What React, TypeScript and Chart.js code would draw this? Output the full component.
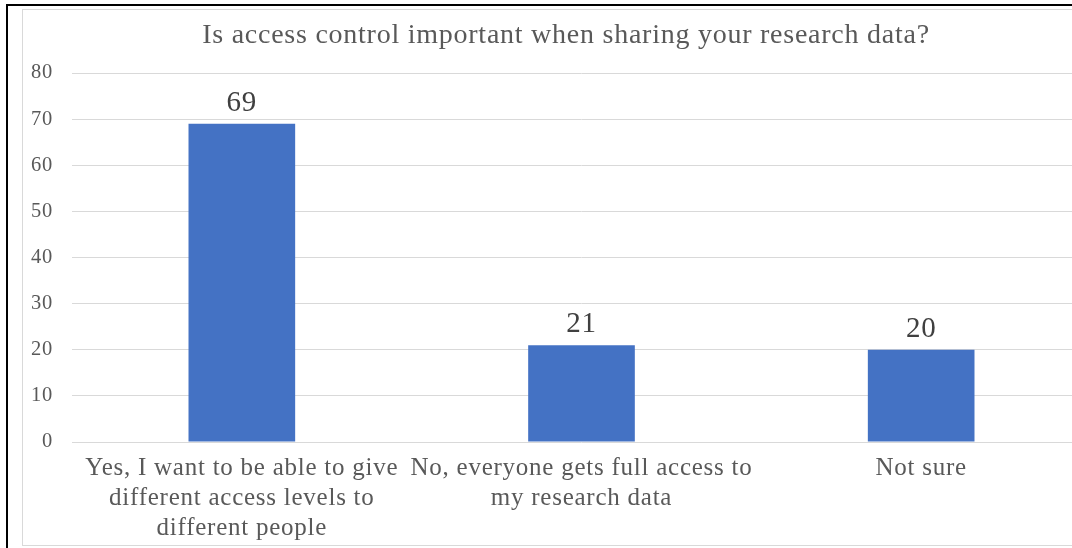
import React, { useEffect, useRef } from "react";
import { Chart, registerables } from "chart.js";

Chart.register(...registerables);

const TITLE = "Is access control important when sharing your research data?";
const CATEGORIES: string[][] = [
  ["Yes, I want to be able to give", "different access levels to", "different people"],
  ["No, everyone gets full access to", "my research data"],
  ["Not sure"],
];
const RESPONSES: number[] = [69, 21, 20];
const Y_MIN = 0;
const Y_MAX = 80;
const Y_STEP = 10;

const FONT = "'Liberation Serif', 'Times New Roman', serif";
const TEXT = "#595959";
const BAR = "#4472C4";
const GRID = "#d9d9d9";
const TRACKING = "0.75px";

// Slightly looser letter spacing for every piece of chart text
const textTracking = {
  id: "textTracking",
  beforeInit(chart: any) {
    chart.ctx.letterSpacing = TRACKING;
  },
  beforeUpdate(chart: any) {
    chart.ctx.letterSpacing = TRACKING;
  },
  beforeLayout(chart: any) {
    chart.ctx.letterSpacing = TRACKING;
  },
  beforeDraw(chart: any) {
    chart.ctx.letterSpacing = TRACKING;
  },
};

// Chart heading, centred on the framed box rather than the plot area
const heading = {
  id: "heading",
  afterDraw(chart: any) {
    const ctx = chart.ctx;
    ctx.save();
    ctx.letterSpacing = TRACKING;
    ctx.font = `28px ${FONT}`;
    ctx.fillStyle = TEXT;
    ctx.textAlign = "center";
    ctx.textBaseline = "alphabetic";
    ctx.fillText(TITLE, chart.width / 2, 34);
    ctx.restore();
  },
};

// Writes each bar's value a little above its top edge
const valueLabels = {
  id: "valueLabels",
  afterDatasetsDraw(chart: any) {
    const ctx = chart.ctx;
    const meta = chart.getDatasetMeta(0);
    const values = chart.data.datasets[0].data as number[];
    ctx.save();
    ctx.letterSpacing = TRACKING;
    ctx.font = `29px ${FONT}`;
    ctx.fillStyle = "#404040";
    ctx.textAlign = "center";
    ctx.textBaseline = "alphabetic";
    meta.data.forEach((bar: any, i: number) => {
      ctx.fillText(String(values[i]), bar.x, bar.y - 13);
    });
    ctx.restore();
  },
};

export default function App() {
  const canvasRef = useRef<HTMLCanvasElement | null>(null);

  useEffect(() => {
    if (!canvasRef.current) return;
    const chart = new Chart(canvasRef.current, {
      type: "bar",
      data: {
        labels: CATEGORIES,
        datasets: [
          {
            data: RESPONSES,
            backgroundColor: BAR,
            barPercentage: 0.314,
            categoryPercentage: 1,
          },
        ],
      },
      options: {
        responsive: false,
        animation: false,
        devicePixelRatio: 1,
        layout: { padding: { left: 0, right: 19, top: 64, bottom: 0 } },
        plugins: {
          legend: { display: false },
          tooltip: { enabled: false },
          title: { display: false },
        },
        scales: {
          x: {
            grid: { display: false, drawTicks: false },
            border: { display: false },
            ticks: {
              color: TEXT,
              font: { family: FONT, size: 25, lineHeight: 1.2 },
              padding: 11,
              maxRotation: 0,
              autoSkip: false,
            },
            afterFit(scale: any) {
              scale.height = 104;
            },
          },
          y: {
            min: Y_MIN,
            max: Y_MAX,
            grid: { color: GRID, lineWidth: 1, drawTicks: false },
            border: { display: false },
            ticks: {
              stepSize: Y_STEP,
              color: TEXT,
              font: { family: FONT, size: 20.5 },
              padding: 19,
            },
            afterFit(scale: any) {
              scale.width = 50;
            },
          },
        },
      },
      plugins: [textTracking, valueLabels, heading],
    });
    return () => chart.destroy();
  }, []);

  return (
    <div
      style={{
        position: "fixed",
        left: 0,
        top: 0,
        width: 1072,
        height: 548,
        overflow: "hidden",
        background: "#ffffff",
      }}
    >
      <div
        style={{
          position: "absolute",
          left: 6,
          top: 4,
          width: 1200,
          height: 600,
          borderLeft: "2px solid #000",
          borderTop: "2px solid #000",
        }}
      />
      <div
        style={{
          position: "absolute",
          left: 22,
          top: 9,
          width: 1200,
          height: 537,
          boxSizing: "border-box",
          border: `1px solid ${GRID}`,
        }}
      />
      <canvas
        ref={canvasRef}
        width={1088}
        height={537}
        style={{ position: "absolute", left: 22, top: 9, width: 1088, height: 537 }}
      />
    </div>
  );
}
